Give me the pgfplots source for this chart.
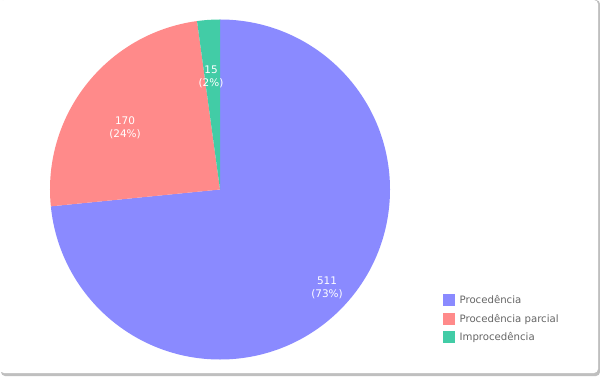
\documentclass[border=0pt]{standalone}
\usepackage{pgfplots}
\pgfplotsset{compat=1.18}
\usepackage{fontspec}
\setmainfont{DejaVu Sans}
\definecolor{pblue}{RGB}{138,138,255}
\definecolor{psalmon}{RGB}{255,138,138}
\definecolor{pteal}{RGB}{66,204,166}
\begin{document}
\begin{tikzpicture}
\begin{axis}[
  scale only axis, width=600bp, height=376bp,
  xmin=0, xmax=600, ymin=0, ymax=376,
  hide axis, clip=false,
  legend style={draw=none, fill=none, at={(axis cs:443,82)}, anchor=north west,
    font=\fontsize{10.2}{12}\selectfont, text=black!60, row sep=6.5pt,
    inner sep=0pt, nodes={inner sep=1bp}},
  legend cell align=left,
]
% card
\fill[black!25, rounded corners=4bp] (axis cs:1,0) rectangle (axis cs:600,376);
\fill[white, rounded corners=4bp] (axis cs:0,3) rectangle (axis cs:598,376);
% values: 511, 170, 15 (total 696)
\fill[pblue] (axis cs:220,186.5) -- ++(90:170bp) arc[start angle=90, end angle={90-511/696*360}, radius=170bp] -- cycle;
\fill[psalmon] (axis cs:220,186.5) -- ++({90-511/696*360}:170bp) arc[start angle={90-511/696*360}, end angle={90-681/696*360}, radius=170bp] -- cycle;
\fill[pteal] (axis cs:220,186.5) -- ++({90-681/696*360}:170bp) arc[start angle={90-681/696*360}, end angle={-270}, radius=170bp] -- cycle;
\begin{scope}[every node/.style={text=white, font=\fontsize{10.5}{12.5}\selectfont, align=center}]
\node at (axis cs:327,88) {511\\(73\%)};
\node at (axis cs:125,248) {170\\(24\%)};
\node at (axis cs:211,299) {15\\(2\%)};
\end{scope}
\addlegendimage{legend image code/.code={\fill[pblue] (0bp,-5bp) rectangle (11bp,6bp); \path (15bp,0bp);}}
\addlegendentry{Procedência}
\addlegendimage{legend image code/.code={\fill[psalmon] (0bp,-5bp) rectangle (11bp,6bp); \path (15bp,0bp);}}
\addlegendentry{Procedência parcial}
\addlegendimage{legend image code/.code={\fill[pteal] (0bp,-5bp) rectangle (11bp,6bp); \path (15bp,0bp);}}
\addlegendentry{Improcedência}
\end{axis}
\end{tikzpicture}
\end{document}
